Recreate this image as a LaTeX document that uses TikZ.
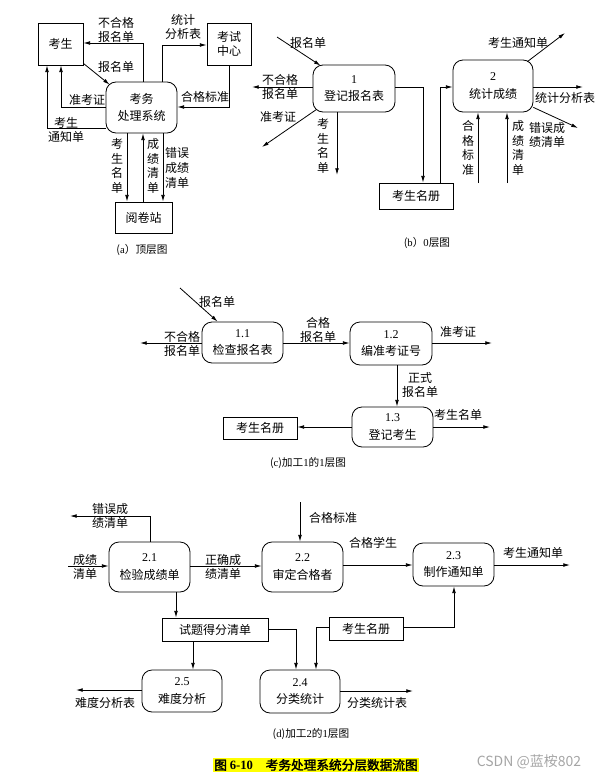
\documentclass[tikz,border=0pt]{standalone}
\usepackage{fontspec}
\setmainfont{Noto Sans CJK SC}
\newfontfamily\lat{Liberation Serif}
\newfontfamily\capfont[FakeBold=2]{Noto Sans CJK SC}
\usetikzlibrary{arrows.meta,calc}
\definecolor{hl}{RGB}{255,255,0}
\definecolor{wm}{RGB}{165,165,165}
\newcommand{\fs}{\fontsize{9}{11}\selectfont}
\begin{document}
\begin{tikzpicture}[x=0.75pt,y=-0.75pt,
 box/.style={draw,rectangle,inner sep=0pt,align=center,font=\fs,line width=0.6pt},
 proc/.style={box,rounded corners=7.5pt,font=\fontsize{9}{13}\selectfont},
 arr/.style={-{Latex[length=5pt,width=2.8pt]},line width=0.6pt},
 lbl/.style={font=\fs,align=center,inner sep=0pt},
 captxt/.style={font=\fontsize{8}{10}\selectfont,inner sep=0pt}]
\useasboundingbox (0,0) rectangle (601,778);

% ---------- (a) ----------
\node[box,minimum width=33.75pt,minimum height=31.5pt] (ks) at (60.5,44) {考生};
\node[box,minimum width=33pt,minimum height=31.5pt] (kszx) at (229,44) {考试\\中心};
\node[proc,minimum width=53.25pt,minimum height=38.25pt] (sys) at (141.5,107.5) {考务\\处理系统};
\node[box,minimum width=42.75pt,minimum height=23.25pt] (yjz) at (143.5,217.5) {阅卷站};

\coordinate (a1) at (143,43);
\draw[arr] (a1 |- sys.north) -- (a1) -- (a1 -| ks.east);
\coordinate (a2) at (162,45);
\draw[arr] (a2 |- sys.north) -- (a2) -- (a2 -| kszx.west);
\draw[arr] ($(ks.south east)+(0,-2)$) -- ($(sys.north west)+(4,3)$);
\coordinate (a3) at (229,107);
\draw[arr] (a3 |- kszx.south) -- (a3) -- (a3 -| sys.east);
\coordinate (a4) at (61,107);
\draw[arr] (a4 -| sys.west) -- (a4) -- (a4 |- ks.south);
\coordinate (a5) at (47,128);
\draw[arr] (a5 -| sys.west) -- (a5) -- (a5 |- ks.south);
\coordinate (a6) at (127,0);
\draw[arr] (a6 |- sys.south) -- (a6 |- yjz.north);
\coordinate (a7) at (143,0);
\draw[arr] (a7 |- yjz.north) -- (a7 |- sys.south);
\coordinate (a8) at (163,0);
\draw[arr] (a8 |- sys.south) -- (a8 |- yjz.north);

\node[lbl] (la1) at (116,30) {不合格\\报名单};
\node[lbl] (la2) at (183,27) {统计\\分析表};
\node[lbl] (la3) at (116,67) {报名单};
\node[lbl] (la4) at (205,97) {合格标准};
\node[lbl] (la5) at (87,100) {准考证};
\node[lbl] (la6) at (66,130) {考生\\通知单};
\node[lbl] (la7) at (117,166) {考\\生\\名\\单};
\node[lbl] (la8) at (153,166) {成\\绩\\清\\单};
\node[lbl] (la9) at (177,168) {错误\\成绩\\清单};
\node[captxt] (capa) at (142,250) {({\lat a}）顶层图};

% ---------- (b) ----------
\node[proc,minimum width=61.5pt,minimum height=35.25pt] (p1) at (354,88.5) {{\lat 1}\\登记报名表};
\node[proc,minimum width=60pt,minimum height=39pt] (p2) at (493,86) {{\lat 2}\\统计成绩};
\node[box,minimum width=55.5pt,minimum height=19.5pt] (mcb) at (416,196) {考生名册};

\coordinate (b0) at (277,37);
\draw[arr] (b0) -- ($(p1.north west)+(8,1)$);
\coordinate (b1) at (252,87);
\draw[arr] (b1 -| p1.west) -- (b1);
\coordinate (b2) at (262,147);
\draw[arr] ($(p1.south west)+(4,-3)$) -- (b2);
\coordinate (b3) at (337,175);
\draw[arr] (b3 |- p1.south) -- (b3);
\coordinate (b4) at (423,87);
\draw[arr] (b4 -| p1.east) -- (b4) -- (b4 |- mcb.north);
\coordinate (b5) at (440,87);
\draw[arr] (b5 |- mcb.north) -- (b5) -- (b5 -| p2.west);
\coordinate (b6) at (565,33);
\draw[arr] ($(p2.north east)+(-6,2)$) -- (b6);
\coordinate (b7) at (583,87);
\draw[arr] (b7 -| p2.east) -- (b7);
\coordinate (b8) at (578,128);
\draw[arr] ($(p2.south east)+(0,-5)$) -- (b8);
\coordinate (b9) at (478,183);
\draw[arr] (b9) -- (b9 |- p2.south);
\coordinate (b10) at (507,183);
\draw[arr] (b10) -- (b10 |- p2.south);

\node[lbl] (lb1) at (308,43) {报名单};
\node[lbl] (lb2) at (280,87) {不合格\\报名单};
\node[lbl] (lb3) at (278,117) {准考证};
\node[lbl] (lb4) at (323,146) {考\\生\\名\\单};
\node[lbl] (lb5) at (518,43) {考生通知单};
\node[lbl] (lb6) at (565,98) {统计分析表};
\node[lbl] (lb7) at (547,135) {错误成\\绩清单};
\node[lbl] (lb8) at (468,148) {合\\格\\标\\准};
\node[lbl] (lb9) at (518,148) {成\\绩\\清\\单};
\node[captxt] (capb) at (427,243) {({\lat b}）{\lat 0}层图};

% ---------- (c) ----------
\node[proc,minimum width=60.75pt,minimum height=30.75pt] (p11) at (242.5,342.5) {{\lat 1.1}\\检查报名表};
\node[proc,minimum width=61.5pt,minimum height=32.25pt] (p12) at (391,343.5) {{\lat 1.2}\\编准考证号};
\node[proc,minimum width=60.75pt,minimum height=30pt] (p13) at (392.5,427) {{\lat 1.3}\\登记考生};
\node[box,minimum width=55.5pt,minimum height=16.5pt] (mcc) at (260,428) {考生名册};

\coordinate (c0) at (180,288);
\draw[arr] (c0) -- ($(p11.north west)+(16,0)$);
\coordinate (c1) at (140,343);
\draw[arr] (c1 -| p11.west) -- (c1);
\draw[arr] (p11.east |- c1) -- (p12.west |- c1);
\coordinate (c2) at (492,343);
\draw[arr] (c2 -| p12.east) -- (c2);
\coordinate (c3) at (397,0);
\draw[arr] (c3 |- p12.south) -- (c3 |- p13.north);
\coordinate (c4) at (0,427);
\draw[arr] (c4 -| p13.west) -- (c4 -| mcc.east);
\coordinate (c5) at (490,427);
\draw[arr] (c5 -| p13.east) -- (c5);

\node[lbl] (lc1) at (217,302) {报名单};
\node[lbl] (lc2) at (182,344) {不合格\\报名单};
\node[lbl] (lc3) at (318,330) {合格\\报名单};
\node[lbl] (lc4) at (458,332) {准考证};
\node[lbl] (lc5) at (420,385) {正式\\报名单};
\node[lbl] (lc6) at (458,415) {考生名单};
\node[captxt] (capc) at (308,463) {({\lat c})加工{\lat 1}的{\lat 1}层图};

% ---------- (d) ----------
\node[proc,minimum width=60.75pt,minimum height=37.5pt] (p21) at (149.5,567) {{\lat 2.1}\\检验成绩单};
\node[proc,minimum width=60.75pt,minimum height=37.5pt] (p22) at (302.5,567) {{\lat 2.2}\\审定合格者};
\node[proc,minimum width=60.75pt,minimum height=32.25pt] (p23) at (453.5,564.5) {{\lat 2.3}\\制作通知单};
\node[box,minimum width=79.5pt,minimum height=17.25pt] (stdf) at (215,629.5) {试题得分清单};
\node[box,minimum width=55.5pt,minimum height=17.25pt] (mcd) at (366,628.5) {考生名册};
\node[proc,minimum width=60pt,minimum height=31.5pt] (p25) at (182,691) {{\lat 2.5}\\难度分析};
\node[proc,minimum width=60pt,minimum height=32.25pt] (p24) at (300,691.5) {{\lat 2.4}\\分类统计};

\coordinate (d1) at (150,516);
\coordinate (d1e) at (70,516);
\draw[arr] (d1 |- p21.north) -- (d1) -- (d1e);
\coordinate (d2) at (68,566);
\draw[arr] (d2) -- (d2 -| p21.west);
\draw[arr] (p21.east |- d2) -- (p22.west |- d2);
\coordinate (d3) at (300,502);
\draw[arr] (d3) -- (d3 |- p22.north);
\coordinate (d4) at (0,565);
\draw[arr] (d4 -| p22.east) -- (d4 -| p23.west);
\coordinate (d5) at (570,565);
\draw[arr] (d5 -| p23.east) -- (d5);
\coordinate (d6) at (176,0);
\draw[arr] (d6 |- p21.south) -- (d6 |- stdf.north);
\coordinate (d7) at (193,0);
\draw[arr] (d7 |- stdf.south) -- (d7 |- p25.north);
\coordinate (d8) at (296,629);
\draw[arr] (d8 -| stdf.east) -- (d8) -- (d8 |- p24.north);
\coordinate (d9) at (316,627);
\draw[arr] (d9 -| mcd.west) -- (d9) -- (d9 |- p24.north);
\coordinate (d10) at (454,627);
\draw[arr] (d10 -| mcd.east) -- (d10) -- (d10 |- p23.south);
\coordinate (d11) at (76,690);
\draw[arr] (d11 -| p25.west) -- (d11);
\coordinate (d12) at (413,691);
\draw[arr] (d12 -| p24.east) -- (d12);

\node[lbl] (ld1) at (110,516) {错误成\\绩清单};
\node[lbl] (ld2) at (85,567) {成绩\\清单};
\node[lbl] (ld3) at (223,567) {正确成\\绩清单};
\node[lbl] (ld4) at (333,518) {合格标准};
\node[lbl] (ld5) at (373,543) {合格学生};
\node[lbl] (ld6) at (533,553) {考生通知单};
\node[lbl] (ld7) at (105,703) {难度分析表};
\node[lbl] (ld8) at (377,703) {分类统计表};
\node[captxt] (capd) at (311,734) {({\lat d})加工{\lat 2}的{\lat 1}层图};

% ---------- caption ----------
\node[fill=hl,inner xsep=1pt,inner ysep=1pt,font=\fontsize{9.5}{11}\selectfont] (title) at (316,765) {\capfont 图 {\lat\bfseries 6-10}\quad 考务处理系统分层数据流图};
\node[text=wm,inner sep=0pt,font=\fontsize{10.5}{12}\selectfont] (wmk) at (529,762) {CSDN @蓝桉802};
\end{tikzpicture}
\end{document}
